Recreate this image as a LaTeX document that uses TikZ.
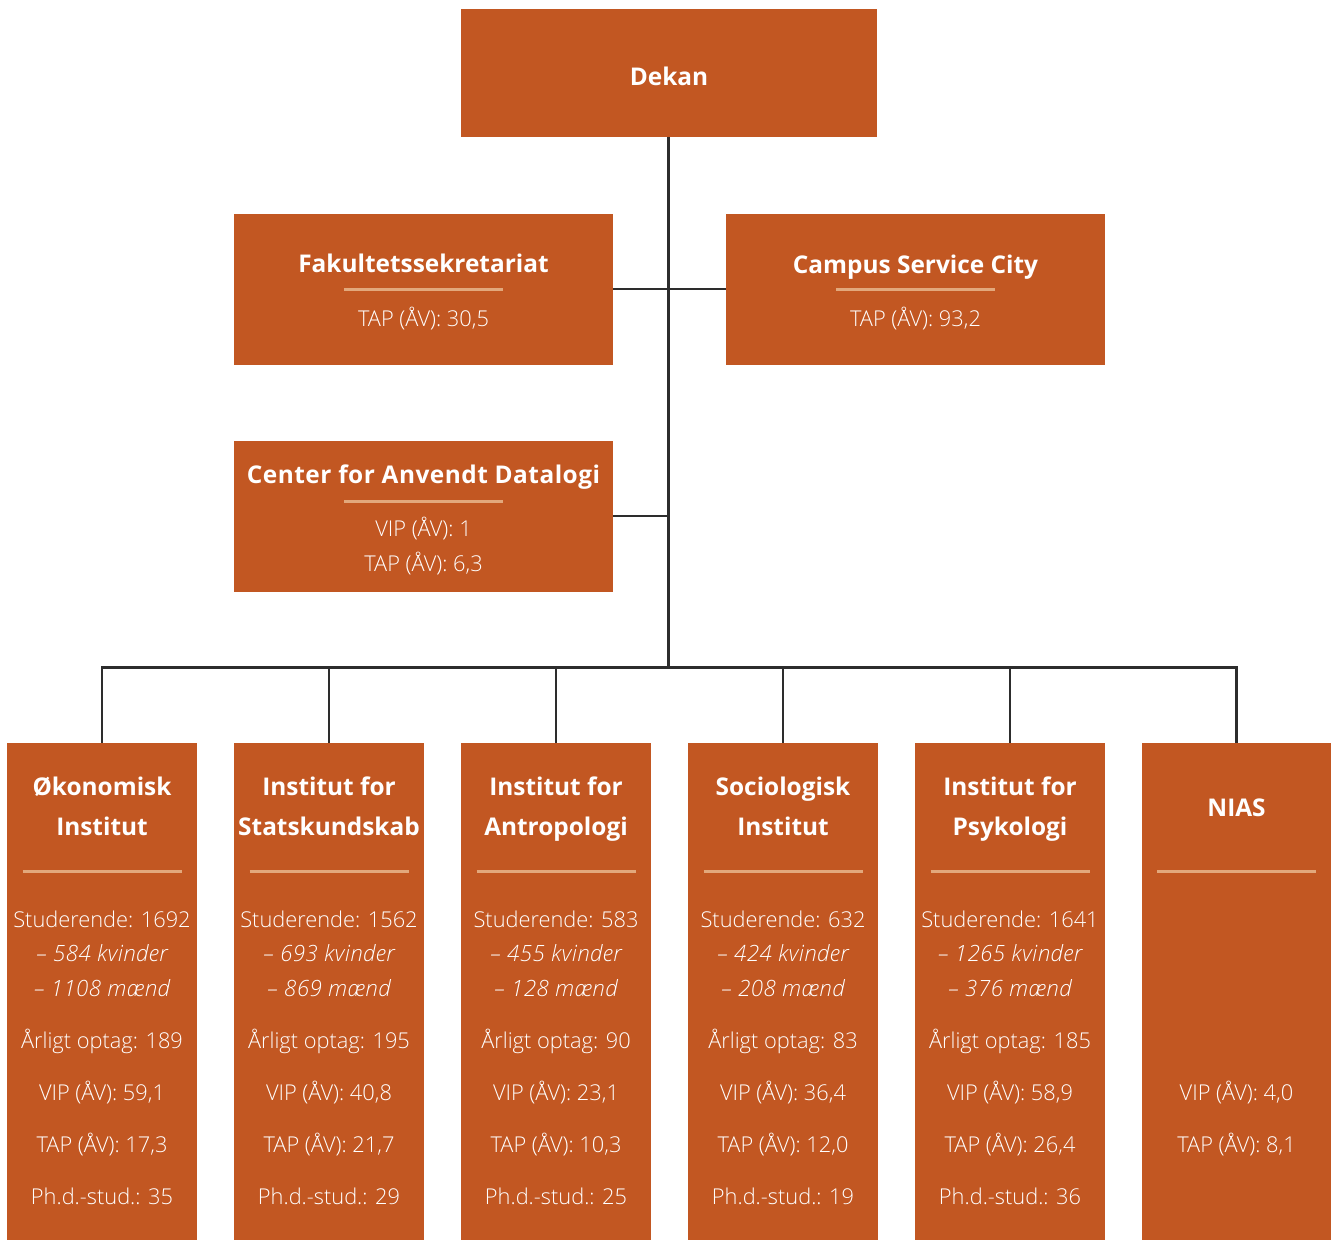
\documentclass[tikz,border=0pt]{standalone}
\usepackage{fontspec}
\setmainfont{Open Sans}[UprightFont=* Light, ItalicFont=* Light Italic, BoldFont=* Bold]
\definecolor{boxorange}{RGB}{194,87,34}
\definecolor{rulepeach}{RGB}{226,168,124}
\definecolor{connline}{RGB}{45,45,45}
\tikzset{
  orgbox/.style={fill=boxorange, draw=none, inner sep=0pt, rectangle},
  ttl/.style={text=white, font=\bfseries\fontsize{24.4}{28}\selectfont, anchor=base, inner sep=0pt},
  txt/.style={text=white, font=\fontsize{21.8}{25}\selectfont, anchor=base, inner sep=0pt},
  itxt/.style={txt, font=\itshape\fontsize{22.4}{26}\selectfont\addfontfeatures{LetterSpace=1.5}},
  rulel/.style={draw=rulepeach, line width=3pt},
  conn/.style={draw=connline, line width=2.2pt, line join=miter}
}
\begin{document}
\begin{tikzpicture}[x=1pt,y=-1pt]
\useasboundingbox (0,0) rectangle (1331,1240);

% top boxes
\node[orgbox, minimum width=416pt, minimum height=128pt] (dekan) at (669,73) {};
\node[ttl] (dekan-t) at (669,85) {Dekan};

\node[orgbox, minimum width=379pt, minimum height=151pt] (fak) at (423.5,289) {};
\node[ttl] (fak-t) at (423.5,272) {Fakultetssekretariat};
\draw[rulel] (344,289.5) -- (503,289.5);
\node[txt] (fak-tap) at (423.5,326) {TAP (ÅV): 30,5};

\node[orgbox, minimum width=379pt, minimum height=151pt] (campus) at (915.5,289) {};
\node[ttl] (campus-t) at (915.5,273) {Campus Service City};
\draw[rulel] (836,289.5) -- (995,289.5);
\node[txt] (campus-tap) at (915.5,326) {TAP (ÅV): 93,2};

\node[orgbox, minimum width=379pt, minimum height=151pt] (cad) at (423.5,516) {};
\node[ttl] (cad-t) at (423.5,483) {\addfontfeatures{LetterSpace=2}Center for Anvendt Datalogi};
\draw[rulel] (344,501.5) -- (503,501.5);
\node[txt] (cad-vip) at (423.5,536) {VIP (ÅV): 1};
\node[txt] (cad-tap) at (423.5,571) {TAP (ÅV): 6,3};

% department boxes
\foreach \nm/\cx/\ta/\tb/\st/\kv/\md/\op/\vp/\tp/\ph in {
  oko/102/Økonomisk/Institut/1692/584/1108/189/{59,1}/{17,3}/35,
  stat/329/Institut for/Statskundskab/1562/693/869/195/{40,8}/{21,7}/29,
  antro/556/Institut for/Antropologi/583/455/128/90/{23,1}/{10,3}/25,
  soc/783/Sociologisk/Institut/632/424/208/83/{36,4}/{12,0}/19,
  psyk/1010/Institut for/Psykologi/1641/1265/376/185/{58,9}/{26,4}/36}{
  \node[orgbox, minimum width=190pt, minimum height=497pt] (\nm) at (\cx,991.5) {};
  \node[ttl] (\nm-t1) at (\cx,795) {\ta};
  \node[ttl] (\nm-t2) at (\cx,835) {\tb};
  \draw[rulel] (\cx-79.5,871.5) -- (\cx+79.5,871.5);
  \node[txt] (\nm-st) at (\cx,927) {Studerende: \st};
  \node[itxt] (\nm-kv) at (\cx,961) {– \kv\ kvinder};
  \node[itxt] (\nm-md) at (\cx,996) {– \md\ mænd};
  \node[txt] (\nm-op) at (\cx,1048) {Årligt optag: \op};
  \node[txt] (\nm-vp) at (\cx,1100) {VIP (ÅV): \vp};
  \node[txt] (\nm-tp) at (\cx,1152) {TAP (ÅV): \tp};
  \node[txt] (\nm-ph) at (\cx,1204) {Ph.d.-stud.: \ph};
}

\node[orgbox, minimum width=189pt, minimum height=497pt] (nias) at (1236.5,991.5) {};
\node[ttl] (nias-t) at (1236.5,816) {NIAS};
\draw[rulel] (1157,871.5) -- (1316,871.5);
\node[txt] (nias-vp) at (1236.5,1100) {VIP (ÅV): 4,0};
\node[txt] (nias-tp) at (1236.5,1152) {TAP (ÅV): 8,1};

% connectors
\coordinate (bus) at (668.5,667.5);
\draw[conn] (dekan.south -| bus) -- (bus);
\draw[conn] (fak.east) -- (campus.west);
\draw[conn] (cad.east) -- (cad.east -| bus);
\foreach \nm in {oko,stat,antro,soc,psyk,nias}{
  \draw[conn] (\nm.north) |- (bus);
}
\end{tikzpicture}
\end{document}
